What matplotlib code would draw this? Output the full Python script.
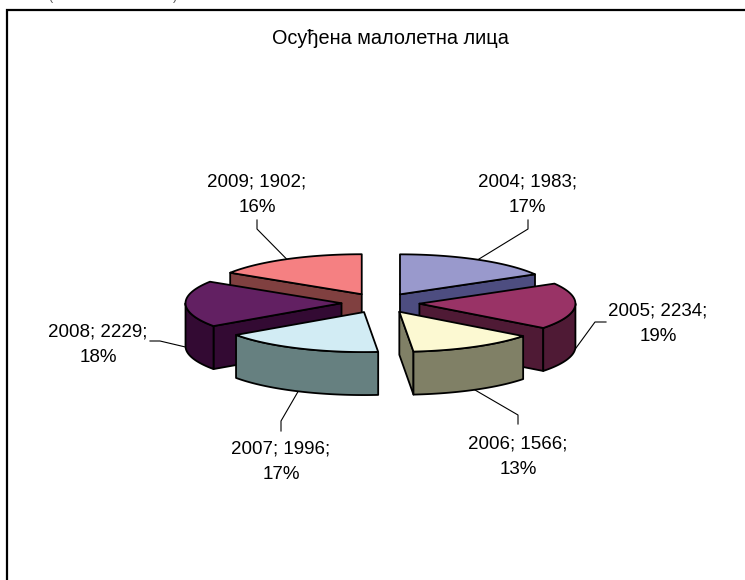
import numpy as np
import matplotlib
matplotlib.use('Agg')
import matplotlib.pyplot as plt

plt.rcParams['font.family'] = ['Liberation Sans', 'DejaVu Sans']

title = 'Осуђена малолетна лица'
years = [2004, 2005, 2006, 2007, 2008, 2009]
counts = [1983, 2234, 1566, 1996, 2229, 1902]
shares = [17, 19, 13, 17, 18, 16]

top_colors = ['#9999CC', '#993366', '#FCF9D2', '#D2ECF4', '#622062', '#F58082']
side_colors = ['#4D4D80', '#4F1A35', '#808066', '#668080', '#330A33', '#804040']

# pie geometry in pixels
cx, cy = 380.5, 303
rx, ry = 156, 40
depth = 43
explode = 0.25

# label centre, leader elbow, leader end
label_pos = [(527, 194.5), (658, 324), (518, 456.5), (281, 461.5), (98, 344.5), (257, 194.5)]
elbows = [(528, 229), (595, 322), (518, 415), (281, 421), (160, 341), (257, 229)]
ends = [(528, 220), (606, 322), (518, 424), (281, 431), (150, 341), (257, 220)]
draw_order = [5, 0, 4, 1, 3, 2]

fig = plt.figure(figsize=(7.45, 5.8), dpi=100)
ax = fig.add_axes([0, 0, 1, 1])
ax.set_xlim(0, 745)
ax.set_ylim(580, 0)
ax.axis('off')

# frame of the chart, only left and top are in the crop
ax.plot([7, 7, 745], [580, 9.5, 9.5], color='black', lw=1.6, solid_joinstyle='miter', zorder=1)
ax.text(50, -3, '(', color='#555555', fontsize=9, ha='center', va='center')
ax.text(175, -3, ')', color='#555555', fontsize=9, ha='center', va='center')

total = sum(counts)
edges = np.concatenate([[0], np.cumsum(counts) / total * 360])


def arc(ox, oy, a0, a1):
    t = np.radians(np.linspace(a0, a1, 60))
    return ox + rx * np.sin(t), oy - ry * np.cos(t)


def draw_face(xs, ys, color):
    ax.fill(xs, ys, facecolor=color, edgecolor='black', lw=1.3, joinstyle='round', zorder=3)


def radial_wall(ox, oy, a, color):
    x1 = ox + rx * np.sin(np.radians(a))
    y1 = oy - ry * np.cos(np.radians(a))
    draw_face([ox, x1, x1, ox], [oy, y1, y1 + depth, oy + depth], color)


for i in draw_order:
    a0, a1 = edges[i], edges[i + 1]
    mid = np.radians((a0 + a1) / 2)
    ox = cx + explode * rx * np.sin(mid)
    oy = cy - explode * ry * np.cos(mid)

    # walls turned towards the viewer
    if np.sin(np.radians(a1)) > 0:
        radial_wall(ox, oy, a1, side_colors[i])
    if np.sin(np.radians(a0)) < 0:
        radial_wall(ox, oy, a0, side_colors[i])
    front0, front1 = max(a0, 90), min(a1, 270)
    if front0 < front1:
        xs, ys = arc(ox, oy, front0, front1)
        draw_face(np.r_[xs, xs[::-1]], np.r_[ys, ys[::-1] + depth], side_colors[i])

    xs, ys = arc(ox, oy, a0, a1)
    draw_face(np.r_[ox, xs], np.r_[oy, ys], top_colors[i])

    # leader line starts on the rim at the middle of the slice
    lx = ox + rx * np.sin(mid)
    ly = oy - ry * np.cos(mid)
    if np.cos(mid) < 0 or abs(np.cos(mid)) < 0.1:
        ly += depth
    ax.plot([lx, elbows[i][0], ends[i][0]], [ly, elbows[i][1], ends[i][1]],
            color='black', lw=0.8, zorder=2)
    ax.text(label_pos[i][0], label_pos[i][1],
            '%d; %d;\n%d%%' % (years[i], counts[i], shares[i]),
            ha='center', va='center', fontsize=13.5, linespacing=1.62, color='black')

ax.text(390, 38.5, title, ha='center', va='center', fontsize=14.3, color='black')

fig.savefig('out.png', dpi=100)
